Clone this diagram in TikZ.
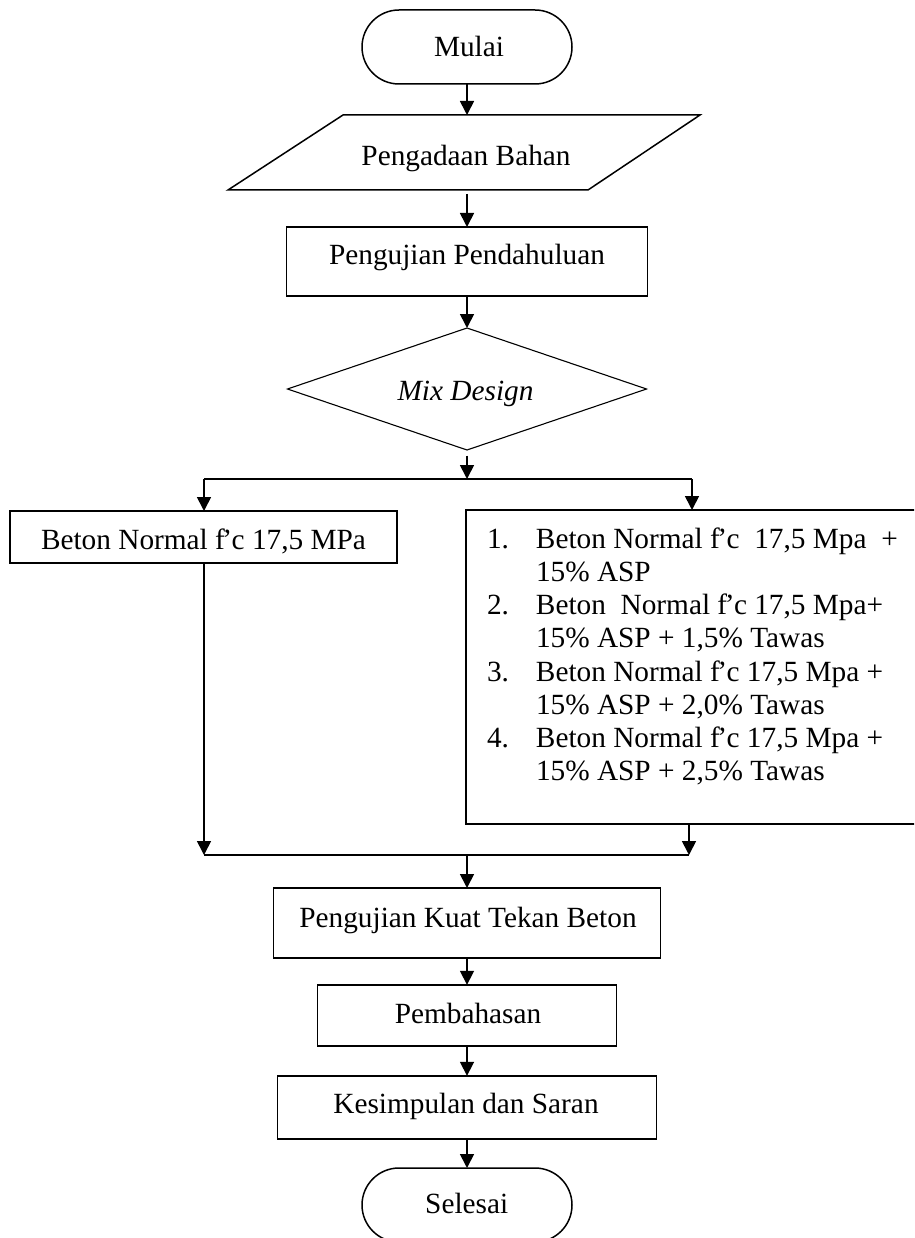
\documentclass[tikz,border=0pt]{standalone}
\usepackage{fontspec}
\setmainfont{Liberation Serif}
\usetikzlibrary{arrows.meta,shapes.geometric}
\newcommand{\myfc}{f\kern-2.5pt’\kern-0.5pt c}
\begin{document}
\begin{tikzpicture}[x=1pt,y=-1pt,
  every node/.style={font=\fontsize{29.3pt}{33.2pt}\selectfont, inner sep=0pt, outer sep=0pt},
  proc/.style={draw, rectangle, line width=1.8pt},
  term/.style={draw, rectangle, line width=1.5pt, rounded corners=37pt, minimum width=210pt, minimum height=74pt},
  dec/.style={draw, diamond, line width=1.1pt},
  lbl/.style={anchor=base},
  arr/.style={-{Triangle[length=14pt,width=14pt]}, line width=1.7pt},
  conn/.style={line width=1.9pt}]
\useasboundingbox (0,0) rectangle (914,1238);
\clip (0,0) rectangle (914,1238);

% shapes
\node[term] (mulai) at (467,47) {};
\node[minimum width=358pt, minimum height=75pt] (bahan) at (465,152.5) {};
\draw[line width=1.5pt] ([xshift=57pt]bahan.north west) -- ([xshift=56pt]bahan.north east)
  -- ([xshift=-56pt]bahan.south east) -- ([xshift=-58pt]bahan.south west) -- cycle;
\node[proc, minimum width=361pt, minimum height=69pt] (pend) at (467,261.5) {};
\node[dec, minimum width=359pt, minimum height=122pt] (mix) at (467,389) {};
\node[proc, minimum width=387pt, minimum height=52pt] (left) at (203.5,537) {};
\node[proc, anchor=north west, minimum width=470pt, minimum height=314pt] (multi) at (466,510) {};
\node[proc, minimum width=387pt, minimum height=70pt] (kuat) at (467,923) {};
\node[proc, minimum width=299pt, minimum height=61pt] (pemb) at (467,1015.3) {};
\node[proc, minimum width=379pt, minimum height=63pt] (kes) at (467,1107.3) {};
\node[term] (selesai) at (467,1205) {};

% texts
\node[lbl] (tmulai) at (469,56.5) {Mulai};
\node[lbl] (tbahan) at (466,166) {Pengadaan Bahan};
\node[lbl] (tpend) at (467,265) {Pengujian Pendahuluan};
\node[lbl] (tmix) at (465.5,400) {\itshape Mix Design};
\node[lbl] (tleft) at (203.5,549.5) {Beton Normal \myfc{} 17,5 MPa};
\node[anchor=base west] (tlist) at (487,548.3) {\parbox[t]{420pt}{%
\makebox[49pt][l]{1.}Beton Normal \myfc\ \ 17,5 Mpa\ \ +\\
\hspace*{49pt}15\% ASP\\
\makebox[49pt][l]{2.}Beton\ \ Normal \myfc{} 17,5 Mpa+\\
\hspace*{49pt}15\% ASP + 1,5\% Tawas\\
\makebox[49pt][l]{3.}Beton Normal \myfc{} 17,5 Mpa +\\
\hspace*{49pt}15\% ASP + 2,0\% Tawas\\
\makebox[49pt][l]{4.}Beton Normal \myfc{} 17,5 Mpa +\\
\hspace*{49pt}15\% ASP + 2,5\% Tawas}};
\node[lbl] (tkuat) at (468,927) {Pengujian Kuat Tekan Beton};
\node[lbl] (tpemb) at (468,1023.5) {Pembahasan};
\node[lbl] (tkes) at (466,1113.5) {Kesimpulan dan Saran};
\node[lbl] (tsel) at (466.7,1213.5) {Selesai};

% junction coordinates
\coordinate (split) at (467,479);
\coordinate (splitL) at (204,479);
\coordinate (splitR) at (692,479);
\coordinate (mergeL) at (204,855);
\coordinate (mergeR) at (689,855);
\coordinate (merge) at (467,855);

% connectors
\draw[arr] (mulai.south) -- (mulai.south |- bahan.north);
\draw[arr] ([yshift=-4pt]bahan.south -| pend.north) -- (pend.north);
\draw[arr] (pend.south) -- (mix.north);
\draw[arr] ([yshift=-5.5pt]mix.south) -- (split);
\draw[conn] (splitL) -- (splitR);
\draw[arr] (splitL) -- (splitL |- left.north);
\draw[arr] (splitR) -- (splitR |- multi.north);
\draw[arr] (left.south -| mergeL) -- (mergeL);
\draw[arr] (mergeR |- multi.south) -- (mergeR);
\draw[conn] (mergeL) -- (mergeR);
\draw[arr] (merge) -- (kuat.north);
\draw[arr] (kuat.south) -- (pemb.north);
\draw[arr] (pemb.south) -- (kes.north);
\draw[arr] (kes.south) -- (selesai.north);
\end{tikzpicture}
\end{document}
